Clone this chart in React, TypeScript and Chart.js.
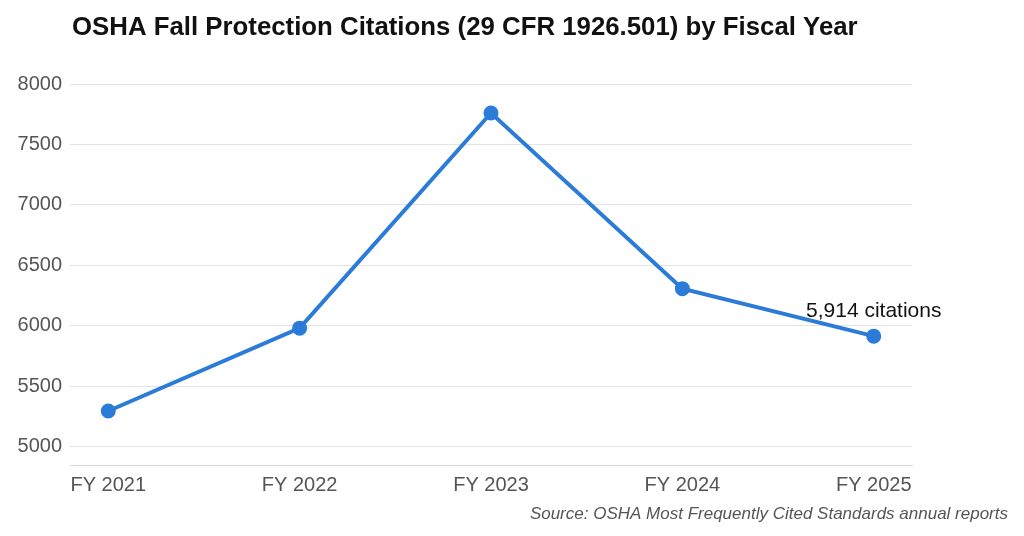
import { useEffect, useRef } from "react";
import { Chart, registerables } from "chart.js";

Chart.register(...registerables);

const years = ["FY 2021", "FY 2022", "FY 2023", "FY 2024", "FY 2025"];
const citations = [5295, 5980, 7760, 6307, 5914];
const yTicks = [5000, 5500, 6000, 6500, 7000, 7500, 8000];

const titleText = "OSHA Fall Protection Citations (29 CFR 1926.501) by Fiscal Year";
const sourceText = "Source: OSHA Most Frequently Cited Standards annual reports";
const calloutText = "5,914 citations";

const FONT = "'Liberation Sans', Arial, sans-serif";

// title, source line and the callout above the last point
const textPlugin = {
  id: "extraText",
  afterDraw(chart: Chart) {
    const { ctx, chartArea } = chart;
    ctx.save();
    ctx.fillStyle = "#111";
    ctx.font = `bold 25.8px ${FONT}`;
    ctx.textAlign = "left";
    ctx.textBaseline = "alphabetic";
    ctx.fillText(titleText, chartArea.left + 2, 35);

    ctx.fillStyle = "#555";
    ctx.font = `italic 17px ${FONT}`;
    ctx.textAlign = "right";
    ctx.fillText(sourceText, 1008, 519);

    const meta = chart.getDatasetMeta(0);
    const last = meta.data[meta.data.length - 1];
    if (last) {
      ctx.fillStyle = "#111";
      ctx.font = `21px ${FONT}`;
      ctx.textAlign = "center";
      ctx.fillText(calloutText, last.x, last.y - 19);
    }
    ctx.restore();
  },
};

export default function App() {
  const canvasRef = useRef<HTMLCanvasElement>(null);

  useEffect(() => {
    document.body.style.margin = "0";
    const ctx = canvasRef.current?.getContext("2d");
    if (!ctx) return;
    const chart = new Chart(ctx, {
      type: "line",
      data: {
        datasets: [
          {
            data: citations.map((v, i) => ({ x: i, y: v })),
            borderColor: "#2b7bd9",
            backgroundColor: "#2b7bd9",
            borderWidth: 4,
            pointRadius: 5.5,
            pointHoverRadius: 5.5,
            tension: 0,
          },
        ],
      },
      options: {
        animation: false,
        responsive: false,
        maintainAspectRatio: false,
        layout: { padding: { top: 84, right: 112, bottom: 0, left: 0 } },
        plugins: {
          legend: { display: false },
          title: { display: false },
          tooltip: { enabled: false },
        },
        scales: {
          x: {
            type: "linear",
            min: -0.2,
            max: 4.2,
            afterBuildTicks: (scale) => {
              scale.ticks = years.map((_, i) => ({ value: i }));
            },
            afterFit: (scale) => {
              scale.height = 71;
            },
            grid: { display: false, drawTicks: false },
            border: { display: true, color: "#d6d6d6", width: 1 },
            ticks: {
              padding: 8,
              color: "#555",
              font: { family: FONT, size: 20 },
              maxRotation: 0,
              autoSkip: false,
              callback: (v) => years[Number(v)] ?? "",
            },
          },
          y: {
            min: 4848,
            max: 8000,
            afterBuildTicks: (scale) => {
              scale.ticks = yTicks.map((v) => ({ value: v }));
            },
            afterFit: (scale) => {
              scale.width = 70;
            },
            grid: { color: "#e3e3e3", lineWidth: 1, drawTicks: false },
            border: { display: false },
            ticks: {
              padding: 8,
              color: "#555",
              font: { family: FONT, size: 20 },
              callback: (v) => String(v),
            },
          },
        },
      },
      plugins: [textPlugin],
    });
    return () => chart.destroy();
  }, []);

  return (
    <div style={{ width: 1024, height: 536 }}>
      <canvas ref={canvasRef} width={1024} height={536} />
    </div>
  );
}
